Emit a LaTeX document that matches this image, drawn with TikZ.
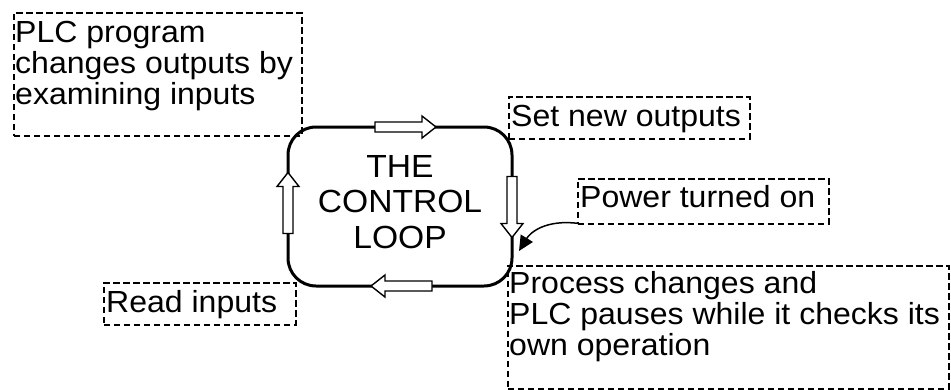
\documentclass[tikz,border=0pt]{standalone}
\usepackage{fontspec}
\setmainfont{Liberation Sans}[FakeStretch=1.05]
\usetikzlibrary{arrows.meta}
\begin{document}
\begin{tikzpicture}[x=1pt,y=-1pt,
  dbox/.style={draw, dash pattern=on 6.5pt off 3.5pt, line width=1.5pt, inner sep=0pt, anchor=north west},
  txt/.style={font=\fontsize{30.5}{31}\selectfont, anchor=base west, inner sep=0pt, align=left},
  ctxt/.style={font=\fontsize{32}{35.5}\selectfont, anchor=base, inner sep=0pt, align=center},
  barrow/.pic={\draw[line width=1.4pt, fill=white, line join=miter]
    (-30.5,-5) -- (16.5,-5) -- (16.5,-11) -- (30.5,0) -- (16.5,11) -- (16.5,5) -- (-30.5,5) -- cycle;}
]
\useasboundingbox (0,0) rectangle (951,389);
% loop
\node[draw, line width=3pt, rounded corners=28pt, minimum width=224pt, minimum height=159pt, inner sep=0pt] (loop) at (400,206.5) {};
\node[ctxt] (loopTxt) at (400,248) {THE\\CONTROL\\LOOP};
% block arrows
\pic at (405.5,127) {barrow};
\pic[rotate=-90] at (512,207) {barrow};
\pic[rotate=180] at (401.5,286) {barrow};
\pic[rotate=90] at (288,203) {barrow};
% dashed boxes
\node[dbox, minimum width=288pt, minimum height=123pt] (plcBox) at (13,12) {};
\node[txt] (plcTxt) at (15,104) {PLC program\\changes outputs by\\examining inputs};
\node[dbox, minimum width=241pt, minimum height=42pt] (setBox) at (508,96) {};
\node[txt] (setTxt) at (511,126) {Set new outputs};
\node[dbox, minimum width=251pt, minimum height=45pt] (pwrBox) at (577,178) {};
\node[txt] (pwrTxt) at (580,207) {Power turned on};
\node[dbox, minimum width=441pt, minimum height=123pt] (procBox) at (507,265) {};
\node[txt] (procTxt) at (509,355) {Process changes and\\PLC pauses while it checks its\\own operation};
\node[dbox, minimum width=192pt, minimum height=42pt] (readBox) at (103,282) {};
\node[txt] (readTxt) at (106,312) {Read inputs};
% curved arrow
\coordinate (tip) at (519,251);
\draw[line width=1.5pt, -{Triangle[length=15pt,width=14pt]}]
  ([xshift=2pt,yshift=1pt]pwrBox.south west) .. controls (545,219) and (530,233) .. (tip);
\end{tikzpicture}
\end{document}
